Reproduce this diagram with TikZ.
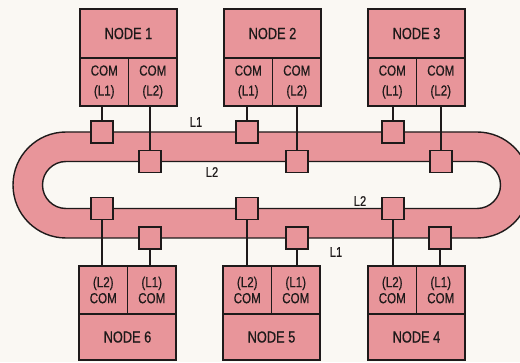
\documentclass[tikz,border=0pt]{standalone}
\usepackage{fontspec}
\setmainfont{Liberation Sans}[FakeStretch=0.8,FakeBold=0.5]
\definecolor{paper}{HTML}{FAF8F3}
\definecolor{pinkfill}{HTML}{E8959A}
\definecolor{ink}{HTML}{1E1A1A}
\begin{document}
\begin{tikzpicture}[x=1pt,y=1pt,
  box/.style={draw=ink,fill=pinkfill,line width=1.9pt,inner sep=0pt,
    text=ink,align=center},
  title/.style={box,minimum width=97pt,font=\fontsize{16}{18}\selectfont},
  comtop/.style={box,minimum width=48.5pt,minimum height=48pt,
    font=\fontsize{14.5}{20}\selectfont},
  combot/.style={box,minimum width=48.5pt,minimum height=48pt,
    font=\fontsize{14.5}{16}\selectfont},
  sq/.style={draw=ink,fill=pinkfill,line width=1.7pt,minimum size=22pt,inner sep=0pt},
  wire/.style={draw=ink,line width=1.3pt},
  lbl/.style={text=ink,font=\fontsize{14}{16}\selectfont,inner sep=0pt}]
\useasboundingbox (0,0) rectangle (520,362);
\clip (0,0) rectangle (520,362);
\fill[paper] (0,0) rectangle (520,362);
% ring
\path[fill=pinkfill,even odd rule,draw=ink,line width=1.4pt]
  (66,230) arc[start angle=90,end angle=270,radius=53] -- (477,124)
  arc[start angle=-90,end angle=90,radius=53] -- cycle
  (66,200.5) arc[start angle=90,end angle=270,radius=23.5] -- (477,153.5)
  arc[start angle=-90,end angle=90,radius=23.5] -- cycle;
% top nodes
\node[title,minimum height=49pt] (n1) at (128.5,328.5) {NODE 1};
\node[comtop] (n1a) at (104.25,280) {COM\\(L1)};
\node[comtop] (n1b) at (152.75,280) {COM\\(L2)};
\node[title,minimum height=49pt] (n2) at (272.5,328.5) {NODE 2};
\node[comtop] (n2a) at (248.25,280) {COM\\(L1)};
\node[comtop] (n2b) at (296.75,280) {COM\\(L2)};
\node[title,minimum height=49pt] (n3) at (416.5,328.5) {NODE 3};
\node[comtop] (n3a) at (392.25,280) {COM\\(L1)};
\node[comtop] (n3b) at (440.75,280) {COM\\(L2)};
% bottom nodes
\node[title,minimum height=46pt] (n6) at (127.5,25) {NODE 6};
\node[combot] (n6a) at (103.25,72) {(L2)\\COM};
\node[combot] (n6b) at (151.75,72) {(L1)\\COM};
\node[title,minimum height=46pt] (n5) at (271.5,25) {NODE 5};
\node[combot] (n5a) at (247.25,72) {(L2)\\COM};
\node[combot] (n5b) at (295.75,72) {(L1)\\COM};
\node[title,minimum height=46pt] (n4) at (416.5,25) {NODE 4};
\node[combot] (n4a) at (392.25,72) {(L2)\\COM};
\node[combot] (n4b) at (440.75,72) {(L1)\\COM};
% taps
\coordinate (t1a) at (102,230);
\coordinate (t1b) at (150,200.5);
\coordinate (t2a) at (247,230);
\coordinate (t2b) at (297,200.5);
\coordinate (t3a) at (393,230);
\coordinate (t3b) at (441,200.5);
\coordinate (t6a) at (102,153.5);
\coordinate (t6b) at (150,124);
\coordinate (t5a) at (247,153.5);
\coordinate (t5b) at (297,124);
\coordinate (t4a) at (393,153.5);
\coordinate (t4b) at (440,124);
% wires
\foreach \t/\c in {t1a/n1a,t1b/n1b,t2a/n2a,t2b/n2b,t3a/n3a,t3b/n3b}
  \draw[wire] (\t) -- (\t |- \c.south);
\foreach \t/\c in {t6a/n6a,t6b/n6b,t5a/n5a,t5b/n5b,t4a/n4a,t4b/n4b}
  \draw[wire] (\t) -- (\t |- \c.north);
% squares
\foreach \t in {t1a,t1b,t2a,t2b,t3a,t3b,t6a,t6b,t5a,t5b,t4a,t4b}
  \node[sq] (s\t) at (\t) {};
% labels
\node[lbl] (la) at (196,240) {L1};
\node[lbl] (lb) at (212,190) {L2};
\node[lbl] (lc) at (360,161) {L2};
\node[lbl] (ld) at (336,110) {L1};
\end{tikzpicture}
\end{document}
